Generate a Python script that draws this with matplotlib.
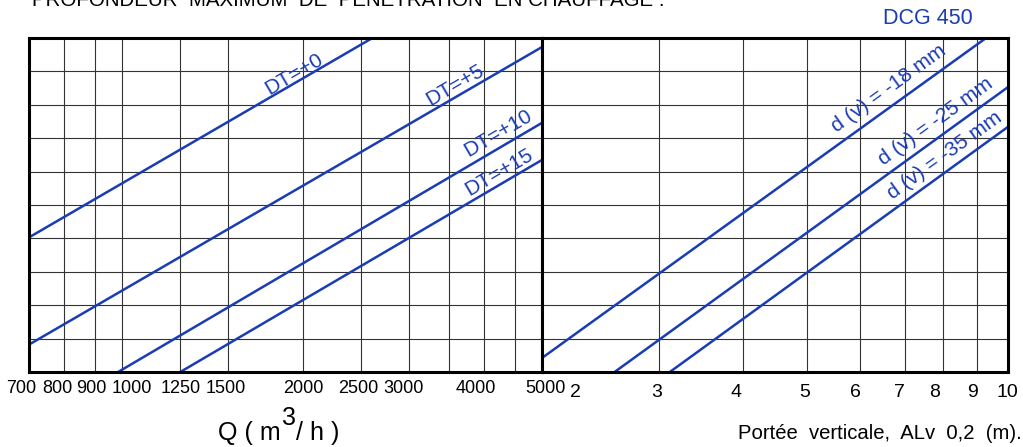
import numpy as np
import matplotlib.pyplot as plt
from matplotlib.transforms import ScaledTranslation

plt.rcParams['font.family'] = ['Liberation Sans', 'DejaVu Sans']

# left panel: airflow Q (m3/h), log axis
q_ticks = [700, 800, 900, 1000, 1250, 1500, 2000, 2500, 3000, 4000, 5000]
q_grid = [800, 900, 1000, 1250, 1500, 2000, 2500, 3000, 3500, 4000, 4500]
q_lim = (700, 5000)

# DT lines: two end points each (Q, y)
dt_labels = ["DT=+0", "DT=+5", "DT=+10", "DT=+15"]
dt_q = [[700, 2610], [700, 5000], [985, 5000], [1250, 5000]]
dt_y = [[4.03, 10.0], [0.82, 9.73], [0.0, 7.46], [0.0, 6.35]]
dt_label_q = [1935, 3589, 4233, 4233]
dt_label_y = [8.92, 8.59, 7.16, 5.99]

# right panel: vertical throw (m), log axis
v_ticks = [2, 3, 4, 5, 6, 7, 8, 9, 10]
v_grid = [3, 4, 5, 6, 7, 8, 9]
v_lim = (2, 10)

dv_labels = ["d (v) = -18 mm", "d (v) = -25 mm", "d (v) = -35 mm"]
dv_x = [[2, 9.27], [2.57, 10], [3.11, 10]]
dv_y = [[0.42, 10.0], [0.0, 8.53], [0.0, 7.34]]
dv_label_x = [6.63, 7.79, 8.04]
dv_label_y = [8.50, 7.51, 6.47]

y_grid = np.arange(1, 10)

# small sideways nudges of tick labels (pixels), as in the original drawing
q_label_shift = [-8, -6, -3, 10, 0, -2, 0, -3, -5, -8, 3]
v_label_shift = [33, -3, -7, -3, -5, -5, -9, -5, -1]

blue = '#1a3cb4'
W, H = 1023, 447

fig = plt.figure(figsize=(W / 100, H / 100), dpi=100)
ax1 = fig.add_axes([29 / W, 1 - 372 / H, 513 / W, 334 / H])
ax2 = fig.add_axes([542 / W, 1 - 372 / H, 466 / W, 334 / H])

for ax, grid, lim in [(ax1, q_grid, q_lim), (ax2, v_grid, v_lim)]:
    ax.set_xscale('log')
    ax.set_xlim(*lim)
    ax.set_ylim(0, 10)
    for g in grid:
        ax.axvline(g, color='#333333', lw=0.8, zorder=1)
    for g in y_grid:
        ax.axhline(g, color='#333333', lw=0.8, zorder=1)
    for s in ax.spines.values():
        s.set_linewidth(2.2)
        s.set_color('black')
        s.set_zorder(5)
    ax.set_yticks([])
    ax.minorticks_off()

ax1.set_xticks(q_ticks)
ax1.set_xticklabels([str(t) for t in q_ticks])
ax1.tick_params(axis='x', length=0, pad=6, labelsize=13)
ax2.set_xticks(v_ticks)
ax2.set_xticklabels([str(t) for t in v_ticks])
ax2.tick_params(axis='x', length=0, pad=8.5, labelsize=14)
ax1.minorticks_off()
ax2.minorticks_off()

for ax, shifts in [(ax1, q_label_shift), (ax2, v_label_shift)]:
    for lab, dx in zip(ax.get_xticklabels(), shifts):
        lab.set_transform(lab.get_transform() + ScaledTranslation(dx / 100, 0, fig.dpi_scale_trans))

for xs, ys in zip(dt_q, dt_y):
    ax1.plot(xs, ys, color=blue, lw=1.8, zorder=3, solid_capstyle='butt')
for lab, x, y in zip(dt_labels, dt_label_q, dt_label_y):
    ax1.text(x, y, lab, color=blue, fontsize=15, rotation=30.3, rotation_mode='anchor',
             ha='center', va='center', zorder=4)

for xs, ys in zip(dv_x, dv_y):
    ax2.plot(xs, ys, color=blue, lw=1.8, zorder=3, solid_capstyle='butt')
for lab, x, y in zip(dv_labels, dv_label_x, dv_label_y):
    ax2.text(x, y, lab, color=blue, fontsize=15, rotation=35.8, rotation_mode='anchor',
             ha='center', va='center', zorder=4)

# Q ( m3/ h ) with a large raised 3
t1 = fig.text(218 / W, 1 - 440 / H, "Q ( m", fontsize=18, ha='left', va='baseline')
t2 = fig.text(0, 0, "3", fontsize=18, ha='left', va='baseline')
t2.set_transform(fig.transFigure + ScaledTranslation(0, 0, fig.dpi_scale_trans))
fig.canvas.draw()
bb = t1.get_window_extent()
t2.set_position(((bb.x1 + 1) / W, (H - 425) / H))
fig.canvas.draw()
bb2 = t2.get_window_extent()
fig.text((bb2.x1) / W, 1 - 440 / H, "/ h )", fontsize=18, ha='left', va='baseline')

fig.text(1022 / W, 1 - 439 / H, "Portée  verticale,  ALv  0,2  (m).", fontsize=14.6,
         ha='right', va='baseline')
fig.text(928 / W, 1 - 18.5 / H, "DCG 450", color=blue, fontsize=15.5, ha='center', va='center')
fig.text(32 / W, 1 - 6 / H, "PROFONDEUR  MAXIMUM  DE  PENETRATION  EN CHAUFFAGE :",
         fontsize=14.75, ha='left', va='baseline')

fig.savefig('out.png', dpi=100)
